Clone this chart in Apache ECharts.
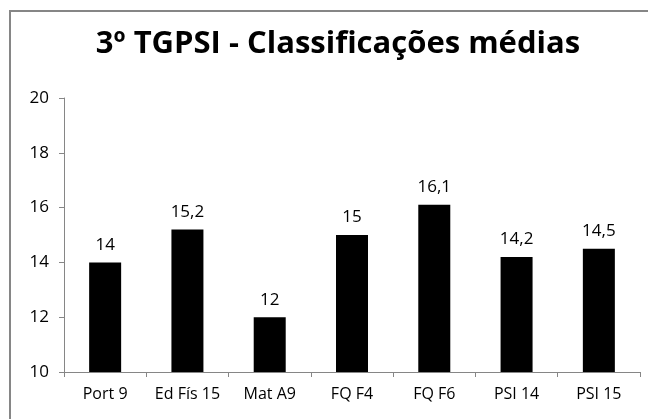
<!DOCTYPE html>
<html>
<head>
<meta charset="utf-8">
<script src="https://cdn.jsdelivr.net/npm/echarts@6/dist/echarts.min.js"></script>
<style>
html, body { margin: 0; padding: 0; background: #fff; }
#main { width: 648px; height: 419px; }
</style>
</head>
<body>
<div id="main"></div>
<script>
var categories = ['Port 9', 'Ed Fís 15', 'Mat A9', 'FQ F4', 'FQ F6', 'PSI 14', 'PSI 15'];
var medias = [14, 15.2, 12, 15, 16.1, 14.2, 14.5];
var yTicks = { min: 10, max: 20, interval: 2 };

var myChart = echarts.init(document.getElementById('main'));

var option = {
    backgroundColor: '#fff',
    animation: false,
    title: {
        text: '3º TGPSI - Classificações médias',
        left: 333,
        textAlign: 'center',
        top: 24,
        textStyle: {
            fontFamily: 'Open Sans',
            fontWeight: 'bold',
            fontSize: 31,
            color: '#000'
        }
    },
    graphic: [{
        type: 'rect',
        shape: { x: 10, y: 11, width: 700, height: 500 },
        style: { fill: 'none', stroke: '#868686', lineWidth: 2 },
        silent: true
    }],
    grid: { left: 64, right: 8, top: 98, bottom: 47 },
    xAxis: {
        type: 'category',
        data: categories,
        axisLine: { lineStyle: { color: '#868686', width: 1 } },
        axisTick: { show: true, length: 5, lineStyle: { color: '#868686' } },
        axisLabel: { interval: 0, color: '#000', fontSize: 16, fontFamily: 'Open Sans', margin: 14 }
    },
    yAxis: {
        type: 'value',
        min: yTicks.min,
        max: yTicks.max,
        interval: yTicks.interval,
        splitLine: { show: false },
        axisLine: { show: true, lineStyle: { color: '#868686', width: 1 } },
        axisTick: { show: true, length: 5, lineStyle: { color: '#868686' } },
        axisLabel: { color: '#000', fontSize: 17, fontFamily: 'Open Sans', margin: 15 }
    },
    series: [{
        type: 'bar',
        data: medias,
        barWidth: 32,
        itemStyle: { color: '#000' },
        label: {
            show: true,
            position: 'top',
            distance: 9,
            color: '#000',
            fontSize: 17,
            fontFamily: 'Open Sans',
            formatter: function (p) { return String(p.value).replace('.', ','); }
        }
    }]
};

myChart.setOption(option);
</script>
</body>
</html>
